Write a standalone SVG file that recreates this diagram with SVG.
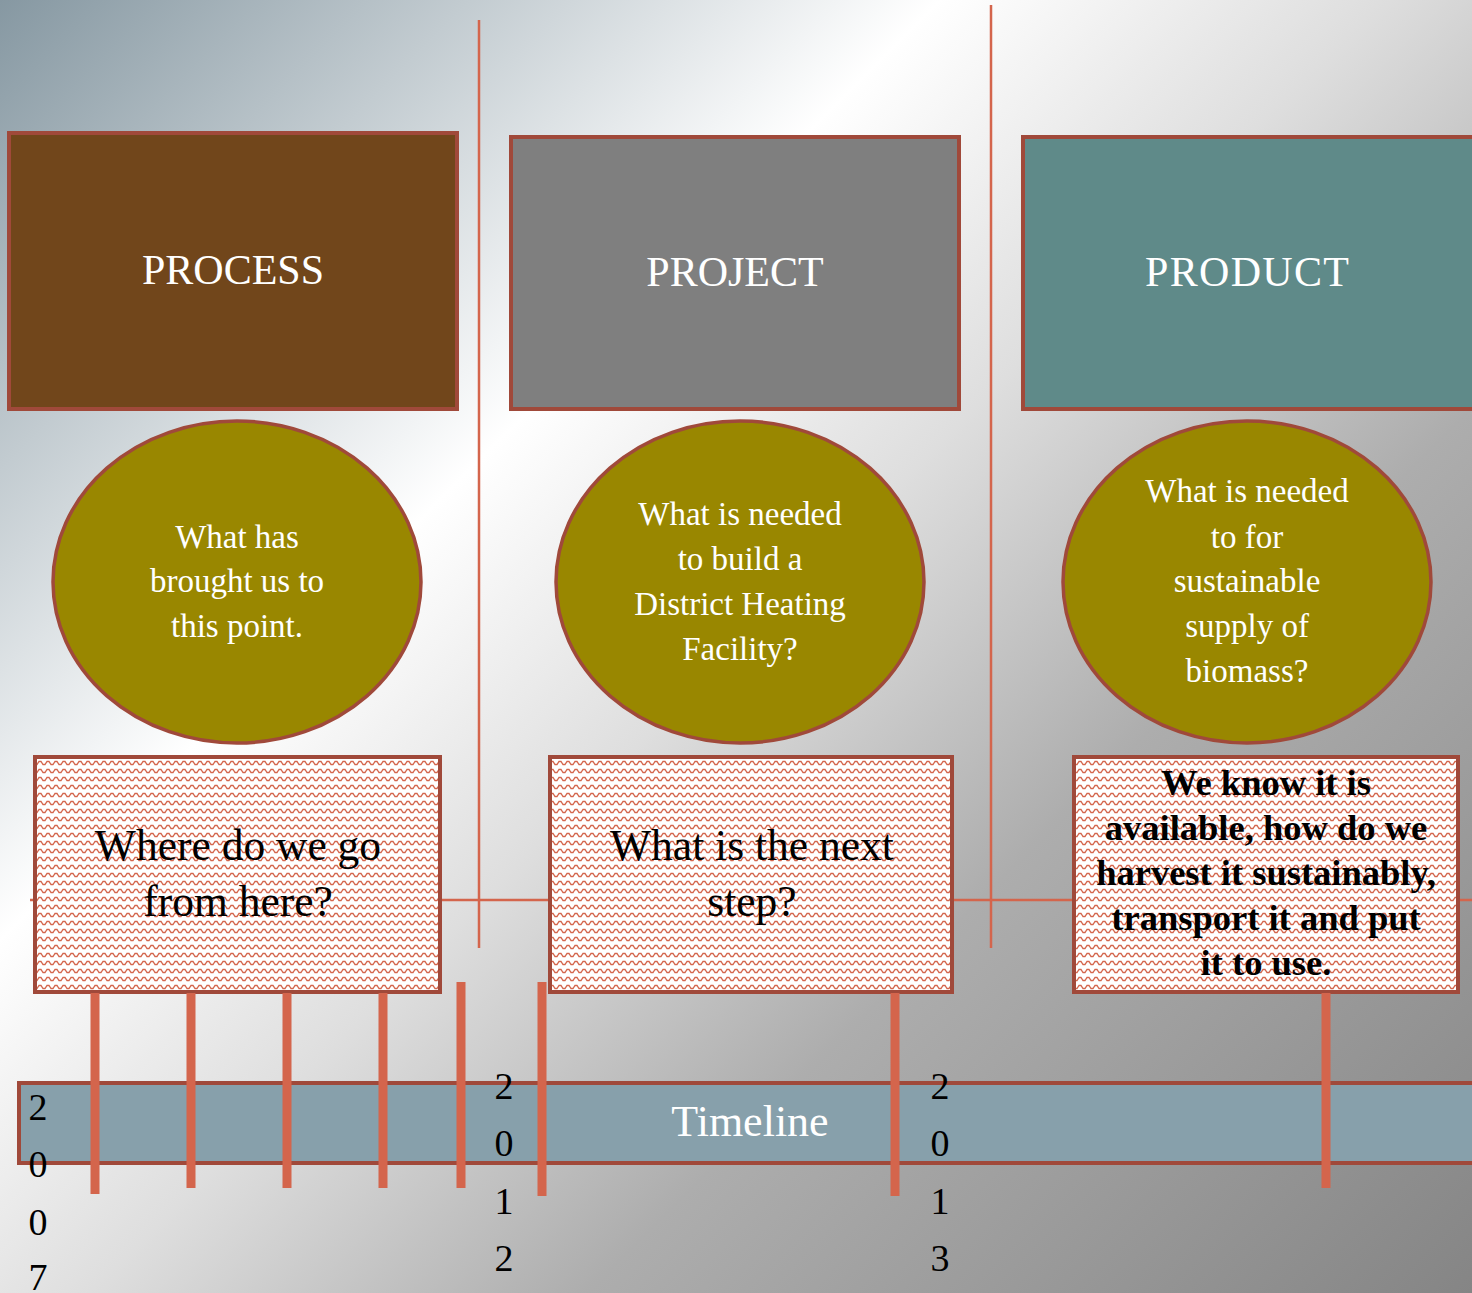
<svg xmlns="http://www.w3.org/2000/svg" width="1472" height="1293" viewBox="0 0 1472 1293">
<defs>
<linearGradient id="bg" gradientUnits="userSpaceOnUse" x1="0" y1="0" x2="1382" y2="1382">
<stop offset="0" stop-color="#8698a2"/>
<stop offset="0.34" stop-color="#ffffff"/>
<stop offset="0.5" stop-color="#dedede"/>
<stop offset="0.68" stop-color="#adadad"/>
<stop offset="1" stop-color="#858585"/>
</linearGradient>
<pattern id="zig" patternUnits="userSpaceOnUse" width="8" height="8">
<rect width="8" height="8" fill="#ffffff"/>
<path d="M0,1.5 H1 L3,4.5 H5 L7,1.5 H8" fill="none" stroke="#d4654c" stroke-width="1.3"/>
</pattern>
<style>
.thin{stroke:#d4654c;stroke-width:2.5;fill:none}
.tick{stroke:#d4654c;stroke-width:9;fill:none}
.hdr{stroke:#a0493a;stroke-width:4}
.oval{fill:#998700;stroke:#a0493a;stroke-width:3.5}
.pbox{fill:url(#zig);stroke:#a0493a;stroke-width:4}
.wt{font-family:"Liberation Serif",serif;fill:#ffffff;text-anchor:middle}
.bt{font-family:"Liberation Serif",serif;fill:#000000;text-anchor:middle}
.yr{font-family:"Liberation Serif",serif;fill:#000000;font-size:38px;text-anchor:middle}
</style>
</defs>
<rect x="0" y="0" width="1472" height="1293" fill="url(#bg)"/>

<g id="connectors">
<line class="thin" x1="479" y1="20" x2="479" y2="948"/>
<line class="thin" x1="991" y1="5" x2="991" y2="948"/>
<line class="thin" x1="30" y1="900" x2="1472" y2="900"/>
</g>

<g id="process">
<rect class="hdr" x="9" y="133" width="448" height="276" fill="#71461b"/>
<text class="wt" x="233" y="284" font-size="42">PROCESS</text>
</g>
<g id="project">
<rect class="hdr" x="511" y="137" width="448" height="272" fill="#7f7f7f"/>
<text class="wt" x="735" y="286" font-size="42">PROJECT</text>
</g>
<g id="product">
<rect class="hdr" x="1023" y="137" width="452" height="272" fill="#5f8a89"/>
<text class="wt" x="1247" y="286" font-size="42" textLength="204">PRODUCT</text>
</g>

<g id="oval-process">
<ellipse class="oval" cx="237" cy="582" rx="184" ry="161"/>
<text class="wt" font-size="33"><tspan x="237" y="548">What has</tspan><tspan x="237" y="592">brought us to</tspan><tspan x="237" y="637">this point.</tspan></text>
</g>
<g id="oval-project">
<ellipse class="oval" cx="740" cy="582" rx="184" ry="161"/>
<text class="wt" font-size="33"><tspan x="740" y="525">What is needed</tspan><tspan x="740" y="570">to build a</tspan><tspan x="740" y="615">District Heating</tspan><tspan x="740" y="660">Facility?</tspan></text>
</g>
<g id="oval-product">
<ellipse class="oval" cx="1247" cy="582" rx="184" ry="161"/>
<text class="wt" font-size="33"><tspan x="1247" y="502">What is needed</tspan><tspan x="1247" y="548">to for</tspan><tspan x="1247" y="592">sustainable</tspan><tspan x="1247" y="637">supply of</tspan><tspan x="1247" y="682">biomass?</tspan></text>
</g>

<g id="box-process">
<rect class="pbox" x="35" y="757" width="405" height="235"/>
<text class="bt" font-size="43.5"><tspan x="238" y="860">Where do we go</tspan><tspan x="238" y="916">from here?</tspan></text>
</g>
<g id="box-project">
<rect class="pbox" x="550" y="757" width="402" height="235"/>
<text class="bt" font-size="43.5"><tspan x="752" y="860">What is the next</tspan><tspan x="752" y="916">step?</tspan></text>
</g>
<g id="box-product">
<rect class="pbox" x="1074" y="757" width="384" height="235"/>
<text class="bt" font-size="36.5" font-weight="bold"><tspan x="1266" y="795">We know it is</tspan><tspan x="1266" y="840">available, how do we</tspan><tspan x="1266" y="885">harvest it sustainably,</tspan><tspan x="1266" y="930">transport it and put</tspan><tspan x="1266" y="975">it to use.</tspan></text>
</g>

<g id="timeline">
<rect x="19" y="1083" width="1460" height="80" fill="#87a0ab" stroke="#a0493a" stroke-width="4"/>
<text class="wt" x="750" y="1136" font-size="44">Timeline</text>
</g>

<g id="ticks">
<line class="tick" x1="95" y1="993" x2="95" y2="1194"/>
<line class="tick" x1="191" y1="993" x2="191" y2="1188"/>
<line class="tick" x1="287" y1="993" x2="287" y2="1188"/>
<line class="tick" x1="383" y1="993" x2="383" y2="1188"/>
<line class="tick" x1="461" y1="982" x2="461" y2="1188"/>
<line class="tick" x1="542" y1="982" x2="542" y2="1196"/>
<line class="tick" x1="895" y1="993" x2="895" y2="1196"/>
<line class="tick" x1="1326" y1="993" x2="1326" y2="1188"/>
</g>

<g id="year-2007">
<text class="yr"><tspan x="38" y="1120">2</tspan><tspan x="38" y="1177">0</tspan><tspan x="38" y="1235">0</tspan><tspan x="38" y="1290">7</tspan></text>
</g>
<g id="year-2012">
<text class="yr"><tspan x="504" y="1099">2</tspan><tspan x="504" y="1156">0</tspan><tspan x="504" y="1214">1</tspan><tspan x="504" y="1271">2</tspan></text>
</g>
<g id="year-2013">
<text class="yr"><tspan x="940" y="1099">2</tspan><tspan x="940" y="1156">0</tspan><tspan x="940" y="1214">1</tspan><tspan x="940" y="1271">3</tspan></text>
</g>
</svg>
